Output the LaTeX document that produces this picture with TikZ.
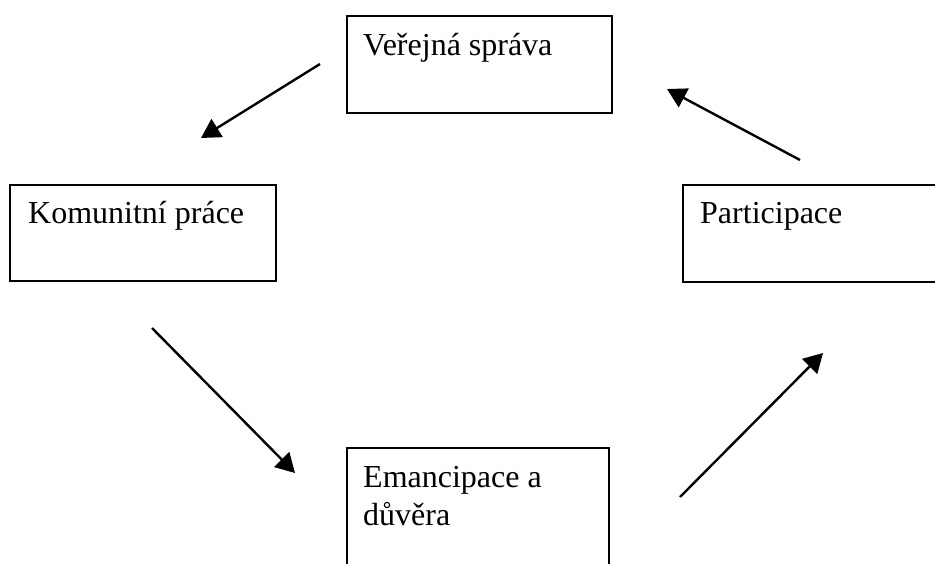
\documentclass[tikz,border=0pt]{standalone}
\usepackage{fontspec}
\setmainfont{Liberation Serif}
\usetikzlibrary{arrows.meta}
\tikzset{
  box/.style={draw=black, line width=2.2pt, rectangle, inner sep=0pt, anchor=north west},
  lbl/.style={anchor=base west, inner sep=0pt, font=\fontsize{32}{38}\selectfont, align=left},
  conn/.style={line width=2.4pt, -{Triangle[length=19pt,width=21pt]}}
}
\begin{document}
\begin{tikzpicture}[x=1pt,y=-1pt]
\useasboundingbox (0,0) rectangle (935,563);
% boxes
\node[box, minimum width=265pt, minimum height=97pt] (vs) at (346,15) {};
\node[box, minimum width=266pt, minimum height=96pt] (kp) at (9,184) {};
\node[box, minimum width=280pt, minimum height=97pt] (pa) at (682,184) {};
\node[box, minimum width=262pt, minimum height=140pt] (ed) at (346,447) {};
% texts
\node[lbl] (tvs) at (363,55) {Veřejná správa};
\node[lbl] (tkp) at (28,223) {Komunitní práce};
\node[lbl] (tpa) at (700,223) {Participace};
\node[lbl] (ted) at (363,487) {Emancipace a};
\node[lbl] (ted2) at (363,525) {důvěra};
% arrow end points
\coordinate (a1s) at (320,64);  \coordinate (a1e) at (201,138);
\coordinate (a2s) at (152,328); \coordinate (a2e) at (295,473);
\coordinate (a3s) at (680,497); \coordinate (a3e) at (823,353);
\coordinate (a4s) at (800,160); \coordinate (a4e) at (667,89);
\draw[conn] (a1s) -- (a1e);
\draw[conn] (a2s) -- (a2e);
\draw[conn] (a3s) -- (a3e);
\draw[conn] (a4s) -- (a4e);
\end{tikzpicture}
\end{document}
